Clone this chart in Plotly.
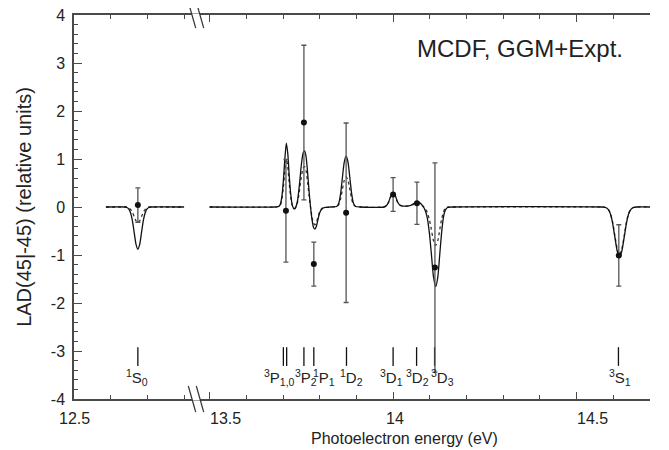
import plotly.graph_objects as go

# ---------------- data ----------------
# Theory curves sampled along photoelectron energy (eV)
theory_energy = [
    12.587, 12.640, 12.644, 12.649, 12.654, 12.659, 12.664, 12.669, 12.674, 12.679,
    12.684, 12.689, 12.694, 12.699, 12.704, 12.710, 12.800,
    13.500, 13.680, 13.688, 13.693, 13.697, 13.701, 13.705, 13.709, 13.713, 13.717,
    13.721, 13.725, 13.729, 13.732, 13.736, 13.740, 13.745, 13.750, 13.755, 13.759,
    13.763, 13.767, 13.771, 13.775, 13.779, 13.783, 13.787, 13.791, 13.795, 13.800,
    13.806, 13.815, 13.830, 13.846, 13.852, 13.857, 13.862, 13.867, 13.872, 13.877,
    13.882, 13.887, 13.892, 13.898, 13.910, 13.975, 13.982, 13.988, 13.994, 14.000,
    14.006, 14.012, 14.018, 14.026, 14.036, 14.046, 14.054, 14.061, 14.067, 14.074,
    14.081, 14.087, 14.093, 14.099, 14.104, 14.110, 14.116, 14.122, 14.127, 14.132,
    14.137, 14.142, 14.148, 14.160, 14.570, 14.579, 14.586, 14.592, 14.598, 14.6045,
    14.611, 14.617, 14.623, 14.6295, 14.636, 14.642, 14.648, 14.655, 14.665, 14.700,
]
mcdf_lad = [
    0.00, 0.00, -0.01, -0.04, -0.12, -0.28, -0.53, -0.78, -0.88, -0.78,
    -0.53, -0.28, -0.12, -0.04, -0.01, 0.00, 0.00,
    0.00, 0.00, 0.01, 0.06, 0.22, 0.55, 1.00, 1.33, 1.12, 0.65,
    0.27, 0.05, -0.03, -0.04, 0.02, 0.15, 0.48, 0.88, 1.13, 1.17,
    1.04, 0.72, 0.33, 0.00, -0.26, -0.42, -0.46, -0.40, -0.27, -0.12,
    -0.04, -0.01, 0.00, 0.01, 0.08, 0.28, 0.62, 0.94, 1.06, 0.94,
    0.62, 0.28, 0.08, 0.01, 0.00, 0.00, 0.03, 0.11, 0.23, 0.28,
    0.23, 0.11, 0.04, 0.02, 0.02, 0.03, 0.06, 0.09, 0.10, 0.08,
    0.02, -0.06, -0.22, -0.55, -0.95, -1.45, -1.66, -1.45, -1.00, -0.55,
    -0.22, -0.07, -0.01, 0.00, 0.00, -0.01, -0.05, -0.14, -0.33, -0.64,
    -0.93, -1.05, -0.93, -0.64, -0.33, -0.14, -0.05, -0.01, 0.00, 0.00,
]
ggm_lad = [
    0.00, 0.00, 0.00, -0.02, -0.05, -0.11, -0.20, -0.29, -0.33, -0.29,
    -0.20, -0.11, -0.05, -0.02, 0.00, 0.00, 0.00,
    0.00, 0.00, 0.01, 0.05, 0.17, 0.41, 0.75, 1.00, 0.84, 0.49,
    0.20, 0.04, -0.02, -0.03, 0.01, 0.11, 0.35, 0.63, 0.81, 0.84,
    0.75, 0.52, 0.24, 0.00, -0.21, -0.34, -0.37, -0.32, -0.22, -0.10,
    -0.03, -0.01, 0.00, 0.01, 0.05, 0.17, 0.37, 0.56, 0.63, 0.56,
    0.37, 0.17, 0.05, 0.01, 0.00, 0.00, 0.03, 0.10, 0.22, 0.27,
    0.22, 0.10, 0.04, 0.02, 0.02, 0.03, 0.05, 0.08, 0.09, 0.07,
    0.02, -0.03, -0.11, -0.27, -0.46, -0.70, -0.80, -0.70, -0.48, -0.26,
    -0.11, -0.03, 0.00, 0.00, 0.00, -0.01, -0.05, -0.13, -0.31, -0.61,
    -0.88, -1.00, -0.88, -0.61, -0.31, -0.13, -0.05, -0.01, 0.00, 0.00,
]

# Experimental points with error bars
expt_energy = [12.674, 13.708, 13.757, 13.784, 13.872, 14.000, 14.065, 14.114, 14.615]
expt_lad = [0.04, -0.08, 1.76, -1.19, -0.12, 0.26, 0.08, -1.26, -1.01]
expt_err = [0.36, 1.07, 1.61, 0.46, 1.87, 0.35, 0.44, 2.18, 0.64]

# Final-state markers
stick_energy = [12.674, 13.701, 13.710, 13.757, 13.784, 13.873, 14.000, 14.064, 14.113, 14.614]
state_labels = ["<sup>1</sup>S<sub>0</sub>", "<sup>3</sup>P<sub>1,0</sub>", "<sup>3</sup>P<sub>2</sub>",
                "<sup>1</sup>P<sub>1</sub>", "<sup>1</sup>D<sub>2</sub>", "<sup>3</sup>D<sub>1</sub>",
                "<sup>3</sup>D<sub>2</sub>", "<sup>3</sup>D<sub>3</sub>", "<sup>3</sup>S<sub>1</sub>"]
state_energy = [12.674, 13.7055, 13.757, 13.784, 13.873, 14.000, 14.064, 14.113, 14.614]

x_tick_values = [12.5, 13.5, 14, 14.5]
x_tick_labels = ["12.5", "13.5", "14", "14.5"]
y_ticks = [-4, -3, -2, -1, 0, 1, 2, 3, 4]

# ---------------- style / layout ----------------
W, H = 669, 450
OFF = 8                      # page offset of the figure (body margin)
P_L, P_R, P_T, P_B = 74, 650, 15, 399   # plot-area edges on the page
ML, MT = P_L - OFF, P_T - OFF
MR, MB = W - (P_R - OFF), H - (P_B - OFF)
PW, PH = P_R - P_L, P_B - P_T
PX_PER_EV = 367.0
BREAK_PX = 196
brk = (BREAK_PX - P_L) / PW
left_range = [12.5, 12.5 + (BREAK_PX - P_L) / PX_PER_EV]
right_range = [14.7 - (P_R - BREAK_PX) / PX_PER_EV, 14.7]
SPLIT = 13.0
label_xshift = [-1, -6, 2, 10, 5, -2, 1, 8, 2]
tick_label_anchor = ["center", "left", "center", "left"]
tick_label_xshift = [0, -2, 2, -2]
STICK_TOP, STICK_BOT, LABEL_Y = -2.92, -3.31, -3.56
TICKLABEL_PY = 418
FONT = "Liberation Sans, Arial, Helvetica, sans-serif"
INK = "#222222"
AX = "#4a4a4a"


def px_x(px):
    return (px - P_L) / PW


def px_y(py):
    return 1 - (py - P_T) / PH


def xref_of(e):
    return "x" if e < SPLIT else "x2"


fig = go.Figure()


def split(xs, ys):
    lx, ly, rx, ry = [], [], [], []
    for x, y in zip(xs, ys):
        if x < SPLIT:
            lx.append(x); ly.append(y)
        else:
            rx.append(x); ry.append(y)
    return (lx, ly), (rx, ry)


for ys, dash, col in [(ggm_lad, "dot", "#333333"), (mcdf_lad, "solid", "#111111")]:
    (lx, ly), (rx, ry) = split(theory_energy, ys)
    for xs_, ys_, xa in [(lx, ly, "x"), (rx, ry, "x2")]:
        fig.add_trace(go.Scatter(
            x=xs_, y=ys_, xaxis=xa, yaxis="y", mode="lines",
            line=dict(color=col, width=1.3, dash=dash, shape="spline", smoothing=0.6),
            hoverinfo="skip"))

# sticks
for xa, cond in [("x", lambda e: e < SPLIT), ("x2", lambda e: e >= SPLIT)]:
    sx, sy = [], []
    for e in stick_energy:
        if cond(e):
            sx += [e, e, None]
            sy += [STICK_TOP, STICK_BOT, None]
    fig.add_trace(go.Scatter(x=sx, y=sy, xaxis=xa, yaxis="y", mode="lines",
                             line=dict(color="#111111", width=1.3), hoverinfo="skip"))

# experiment
for xa, cond in [("x", lambda e: e < SPLIT), ("x2", lambda e: e >= SPLIT)]:
    idx = [i for i, e in enumerate(expt_energy) if cond(e)]
    fig.add_trace(go.Scatter(
        x=[expt_energy[i] for i in idx], y=[expt_lad[i] for i in idx],
        xaxis=xa, yaxis="y", mode="markers",
        marker=dict(color="#111111", size=6),
        error_y=dict(type="data", array=[expt_err[i] for i in idx], visible=True,
                     color="#555555", thickness=1.3, width=2.5),
        hoverinfo="skip"))

for lab, e, dx in zip(state_labels, state_energy, label_xshift):
    fig.add_annotation(x=e, y=LABEL_Y, xref=xref_of(e), yref="y",
                       text=lab, showarrow=False, xshift=dx,
                       font=dict(family=FONT, size=15, color=INK))

# x tick labels (placed like the original: some centred, some starting at the tick)
for v, t, anc, dx in zip(x_tick_values, x_tick_labels, tick_label_anchor, tick_label_xshift):
    fig.add_annotation(x=v, y=px_y(TICKLABEL_PY), xref=xref_of(v), yref="paper",
                       text=t, showarrow=False, xanchor=anc, yanchor="middle", xshift=dx,
                       font=dict(family=FONT, size=16, color=INK))

fig.add_annotation(x=px_x(520), y=px_y(48), xref="paper", yref="paper",
                   text="MCDF, GGM+Expt.", showarrow=False, xanchor="center", yanchor="middle",
                   font=dict(family=FONT, size=24, color=INK))
fig.add_annotation(x=px_x(404), y=px_y(438), xref="paper", yref="paper",
                   text="Photoelectron energy (eV)", showarrow=False,
                   xanchor="center", yanchor="middle",
                   font=dict(family=FONT, size=16, color=INK))

xcommon = dict(showgrid=False, zeroline=False, showline=True, linecolor=AX, linewidth=1.5,
               mirror="ticks", ticks="inside", ticklen=7, tickwidth=1.2, tickcolor=AX,
               minor=dict(dtick=0.1, ticks="inside", ticklen=4, tickcolor=AX, tickwidth=1.2),
               showticklabels=False, anchor="y")
fig.update_layout(
    width=W, height=H, margin=dict(l=ML, r=MR, t=MT, b=MB, autoexpand=False),
    plot_bgcolor="white", paper_bgcolor="white", showlegend=False,
    font=dict(family=FONT, size=16, color=INK),
    xaxis=dict(domain=[0, brk], range=left_range, tickvals=x_tick_values, **xcommon),
    xaxis2=dict(domain=[brk, 1], range=right_range, tickvals=x_tick_values, **xcommon),
    yaxis=dict(range=[-4, 4], tickvals=y_ticks, ticktext=[str(v) for v in y_ticks],
               showgrid=False, zeroline=False, showline=True, linecolor=AX, linewidth=1.5,
               ticks="inside", ticklen=8, tickwidth=1.2, tickcolor=AX, anchor="x", side="left",
               minor=dict(dtick=0.2, ticks="inside", ticklen=4, tickcolor=AX, tickwidth=1.2),
               tickfont=dict(family=FONT, size=16, color=INK), ticklabelstandoff=4,
               ticklabeloverflow="allow",
               title=dict(text="LAD(45|-45) (relative units)", standoff=14,
                          font=dict(family=FONT, size=20, color=INK))),
    yaxis2=dict(range=[-4, 4], overlaying="y", anchor="x2", side="right",
                tickvals=y_ticks, showticklabels=False,
                showgrid=False, zeroline=False, showline=True, linecolor=AX, linewidth=1.5,
                ticks="inside", ticklen=8, tickwidth=1.2, tickcolor=AX,
                minor=dict(dtick=0.2, ticks="inside", ticklen=4, tickcolor=AX, tickwidth=1.2)),
)

# axis-break marks
s1, s2 = px_x(192), px_x(200)
dx, dy = 3.7 / PW, 13 / PH
for yy in (0, 1):
    fig.add_shape(type="line", xref="paper", yref="paper", x0=s1, x1=s2, y0=yy, y1=yy,
                  line=dict(color="white", width=3))
    for sx in (s1, s2):
        fig.add_shape(type="line", xref="paper", yref="paper",
                      x0=sx - dx, x1=sx + dx, y0=yy + dy, y1=yy - dy,
                      line=dict(color="#333333", width=1.2))

fig.write_html("out.html")
